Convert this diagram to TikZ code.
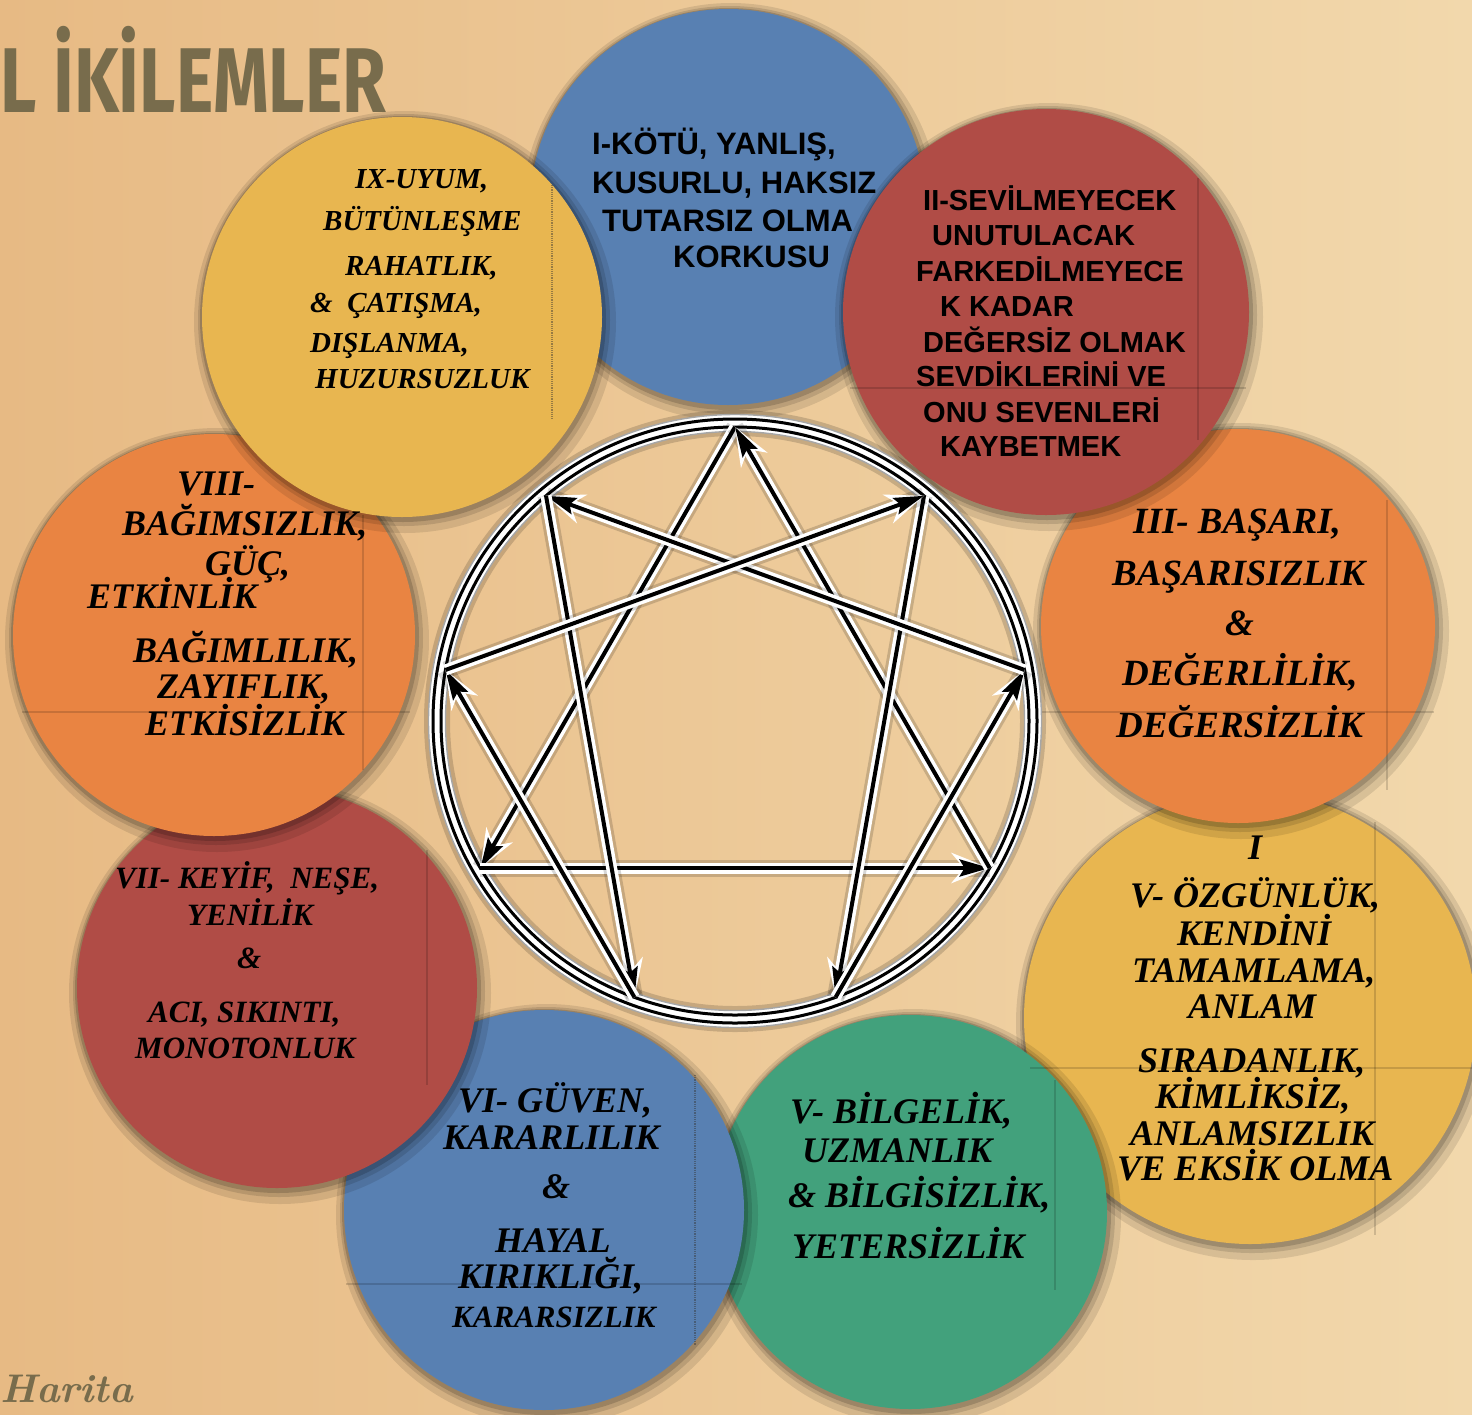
\documentclass[tikz,border=0pt]{standalone}
\usepackage{fontspec}
\newfontfamily\arialf{Liberation Sans}
\newfontfamily\timesf{Liberation Serif}
\newfontfamily\titlef{Fira Sans}
\usetikzlibrary{arrows.meta,calc}

\definecolor{bgA}{RGB}{231,186,132}
\definecolor{bgB}{RGB}{242,216,172}
\definecolor{cblue}{RGB}{88,128,178}
\definecolor{cred}{RGB}{176,76,70}
\definecolor{corange}{RGB}{233,132,66}
\definecolor{cyellow}{RGB}{232,182,80}
\definecolor{cgreen}{RGB}{66,161,124}
\definecolor{ctitle}{RGB}{120,108,76}

\tikzset{
  disc/.style={circle, inner sep=0pt, minimum size=#1},
  sanstxt/.style={anchor=base west, inner sep=0pt, font=\arialf\bfseries\fontsize{#1}{#1}\selectfont},
  sertxt/.style={anchor=base west, inner sep=0pt, font=\timesf\bfseries\itshape\fontsize{#1}{#1}\selectfont},
  boxline/.style={draw=black, opacity=0.15, line width=1.2pt},
  boxdot/.style={draw=black!80, opacity=0.45, line width=1.2pt, densely dotted},
}

\newcommand\discshadow[3]{%
  \fill[black,opacity=0.10] ({#1+3},{#2+5}) circle[radius=#3+11];
  \fill[black,opacity=0.12] ({#1+2},{#2+3}) circle[radius=#3+6];
  \fill[black,opacity=0.16] ({#1+1},{#2+2}) circle[radius=#3+3];
}
\newcommand\echord[2]{%
  \draw[line width=17pt, black, opacity=0.16] (p#1) -- (p#2);
  \draw[line width=11pt, white, -{Stealth[length=38pt, width=30pt]}] (p#1) -- (p#2);
  \draw[line width=4pt, black, -{Stealth[length=30pt, width=17pt, inset=5pt]}] (p#1) -- (p#2);
}

\begin{document}
\begin{tikzpicture}[x=1pt, y=-1pt]
\useasboundingbox (0,0) rectangle (1472,1414);
\clip (0,0) rectangle (1472,1414);
\shade[left color=bgA, right color=bgB] (0,0) rectangle (1472,1414);

% title and footer
\node[anchor=base west, inner sep=0pt, text=ctitle, font=\titlef\bfseries\fontsize{92}{92}\selectfont] (title) at (0,112) {\scalebox{0.77}[1]{L İKİLEMLER}};
\node[anchor=base west, inner sep=0pt, text=ctitle, font=\rmfamily\bfseries\itshape\fontsize{40}{40}\selectfont] (harita) at (0,1402) {Harita};

% discs (stacking order)
\discshadow{728}{207}{198}
\node[disc=396pt, fill=cblue] (c1) at (728,207) {};
\discshadow{1250}{1018}{226}
\node[disc=452pt, fill=cyellow] (c4) at (1250,1018) {};
\discshadow{1238}{626}{197}
\node[disc=394pt, fill=corange] (c3) at (1238,626) {};
\discshadow{1046}{312}{203}
\node[disc=406pt, fill=cred] (c2) at (1046,312) {};
\discshadow{910}{1212}{197}
\node[disc=394pt, fill=cgreen] (c5) at (910,1212) {};
\discshadow{544}{1210}{200}
\node[disc=400pt, fill=cblue] (c6) at (544,1210) {};
\discshadow{277}{988}{200}
\node[disc=400pt, fill=cred] (c7) at (277,988) {};
\discshadow{214}{635}{201}
\node[disc=402pt, fill=corange] (c8) at (214,635) {};
\discshadow{402}{317}{200}
\node[disc=400pt, fill=cyellow] (c9) at (402,317) {};

% faint text-box borders
\draw[boxdot] (552,185) -- (552,420);
\draw[boxline] (1198,178) -- (1198,440);
\draw[boxline] (850,388) -- (1246,388);
\draw[boxline] (363,515) -- (363,770);
\draw[boxline] (22,712) -- (410,712);
\draw[boxline] (427,850) -- (427,1085);
\draw[boxline] (1387,500) -- (1387,790);
\draw[boxline] (1040,712) -- (1434,712);
\draw[boxline] (1375,822) -- (1375,1235);
\draw[boxline] (1030,1068) -- (1472,1068);
\draw[boxdot] (695,1075) -- (695,1345);
\draw[boxline] (346,1284) -- (742,1284);
\draw[boxline] (1055,1080) -- (1055,1290);

% enneagram
\coordinate (E) at (735,721);
\foreach \i/\a in {9/90, 1/50, 2/10, 3/-30, 4/-70, 5/-110, 6/-150, 7/170, 8/130}
  \coordinate (p\i) at ({735+294*cos(\a)},{721-294*sin(\a)});
\draw[line width=26pt, black, opacity=0.16] (E) circle[radius=298pt];
\draw[line width=17pt, white] (E) circle[radius=298pt];
\draw[line width=1.4pt, black!35] (E) circle[radius=306.5pt];
\draw[line width=1.4pt, black!35] (E) circle[radius=289.5pt];
\draw[line width=3pt, black] (E) circle[radius=294pt];
\draw[line width=3pt, black] (E) circle[radius=302pt];
\echord{9}{6}
\echord{6}{3}
\echord{3}{9}
\echord{1}{4}
\echord{4}{2}
\echord{2}{8}
\echord{8}{5}
\echord{5}{7}
\echord{7}{1}

% I
\node[sanstxt=31] (t1a) at (592,154) {I-KÖTÜ, YANLIŞ,};
\node[sanstxt=31] (t1b) at (592,193) {KUSURLU, HAKSIZ};
\node[sanstxt=31] (t1c) at (602,231) {TUTARSIZ OLMA};
\node[sanstxt=31] (t1d) at (673,267) {KORKUSU};
% II
\node[sanstxt=29] (t2a) at (923,210) {II-SEVİLMEYECEK};
\node[sanstxt=29] (t2b) at (932,245) {UNUTULACAK};
\node[sanstxt=29] (t2c) at (916,281) {FARKEDİLMEYECE};
\node[sanstxt=29] (t2d) at (940,316) {K KADAR};
\node[sanstxt=29] (t2e) at (923,352) {DEĞERSİZ OLMAK};
\node[sanstxt=29] (t2f) at (916,386) {SEVDİKLERİNİ VE};
\node[sanstxt=29] (t2g) at (923,422) {ONU SEVENLERİ};
\node[sanstxt=29] (t2h) at (940,456) {KAYBETMEK};
% III
\node[sertxt=37] (t3a) at (1133,533) {III- BAŞARI,};
\node[sertxt=37] (t3b) at (1112,585) {BAŞARISIZLIK};
\node[sertxt=37] (t3c) at (1225,635) {\&};
\node[sertxt=37] (t3d) at (1122,685) {DEĞERLİLİK,};
\node[sertxt=37] (t3e) at (1116,737) {DEĞERSİZLİK};
% IV
\node[sertxt=36] (t4a) at (1248,859) {I};
\node[sertxt=36] (t4b) at (1130,907) {V- ÖZGÜNLÜK,};
\node[sertxt=36] (t4c) at (1177,945) {KENDİNİ};
\node[sertxt=36] (t4d) at (1132,982) {TAMAMLAMA,};
\node[sertxt=36] (t4e) at (1188,1018) {ANLAM};
\node[sertxt=36] (t4f) at (1138,1072) {SIRADANLIK,};
\node[sertxt=36] (t4g) at (1155,1108) {KİMLİKSİZ,};
\node[sertxt=36] (t4h) at (1130,1145) {ANLAMSIZLIK};
\node[sertxt=36] (t4i) at (1117,1180) {VE EKSİK OLMA};
% V
\node[sertxt=36] (t5a) at (790,1123) {V- BİLGELİK,};
\node[sertxt=36] (t5b) at (802,1162) {UZMANLIK};
\node[sertxt=36] (t5c) at (788,1207) {\& BİLGİSİZLİK,};
\node[sertxt=36] (t5d) at (792,1258) {YETERSİZLİK};
% VI
\node[sertxt=36] (t6a) at (458,1112) {VI- GÜVEN,};
\node[sertxt=36] (t6b) at (443,1149) {KARARLILIK};
\node[sertxt=36] (t6c) at (542,1198) {\&};
\node[sertxt=36] (t6d) at (495,1252) {HAYAL};
\node[sertxt=36] (t6e) at (458,1288) {KIRIKLIĞI,};
\node[sertxt=31] (t6f) at (452,1327) {KARARSIZLIK};
% VII
\node[sertxt=31] (t7a) at (115,888) {VII- KEYİF,\ \ NEŞE,};
\node[sertxt=31] (t7b) at (187,925) {YENİLİK};
\node[sertxt=31] (t7c) at (237,968) {\&};
\node[sertxt=31] (t7d) at (148,1022) {ACI, SIKINTI,};
\node[sertxt=31] (t7e) at (135,1058) {MONOTONLUK};
% VIII
\node[sertxt=36] (t8a) at (177,495) {VIII-};
\node[sertxt=36] (t8b) at (122,535) {BAĞIMSIZLIK,};
\node[sertxt=36] (t8c) at (205,575) {GÜÇ,};
\node[sertxt=36] (t8d) at (87,608) {ETKİNLİK};
\node[sertxt=36] (t8e) at (133,662) {BAĞIMLILIK,};
\node[sertxt=36] (t8f) at (157,698) {ZAYIFLIK,};
\node[sertxt=36] (t8g) at (145,735) {ETKİSİZLİK};
% IX
\node[sertxt=29] (t9a) at (355,188) {IX-UYUM,};
\node[sertxt=29] (t9b) at (323,230) {BÜTÜNLEŞME};
\node[sertxt=29] (t9c) at (345,275) {RAHATLIK,};
\node[sertxt=29] (t9d) at (310,312) {\&\ \ ÇATIŞMA,};
\node[sertxt=29] (t9e) at (310,352) {DIŞLANMA,};
\node[sertxt=29] (t9f) at (315,388) {HUZURSUZLUK};
\end{tikzpicture}
\end{document}
